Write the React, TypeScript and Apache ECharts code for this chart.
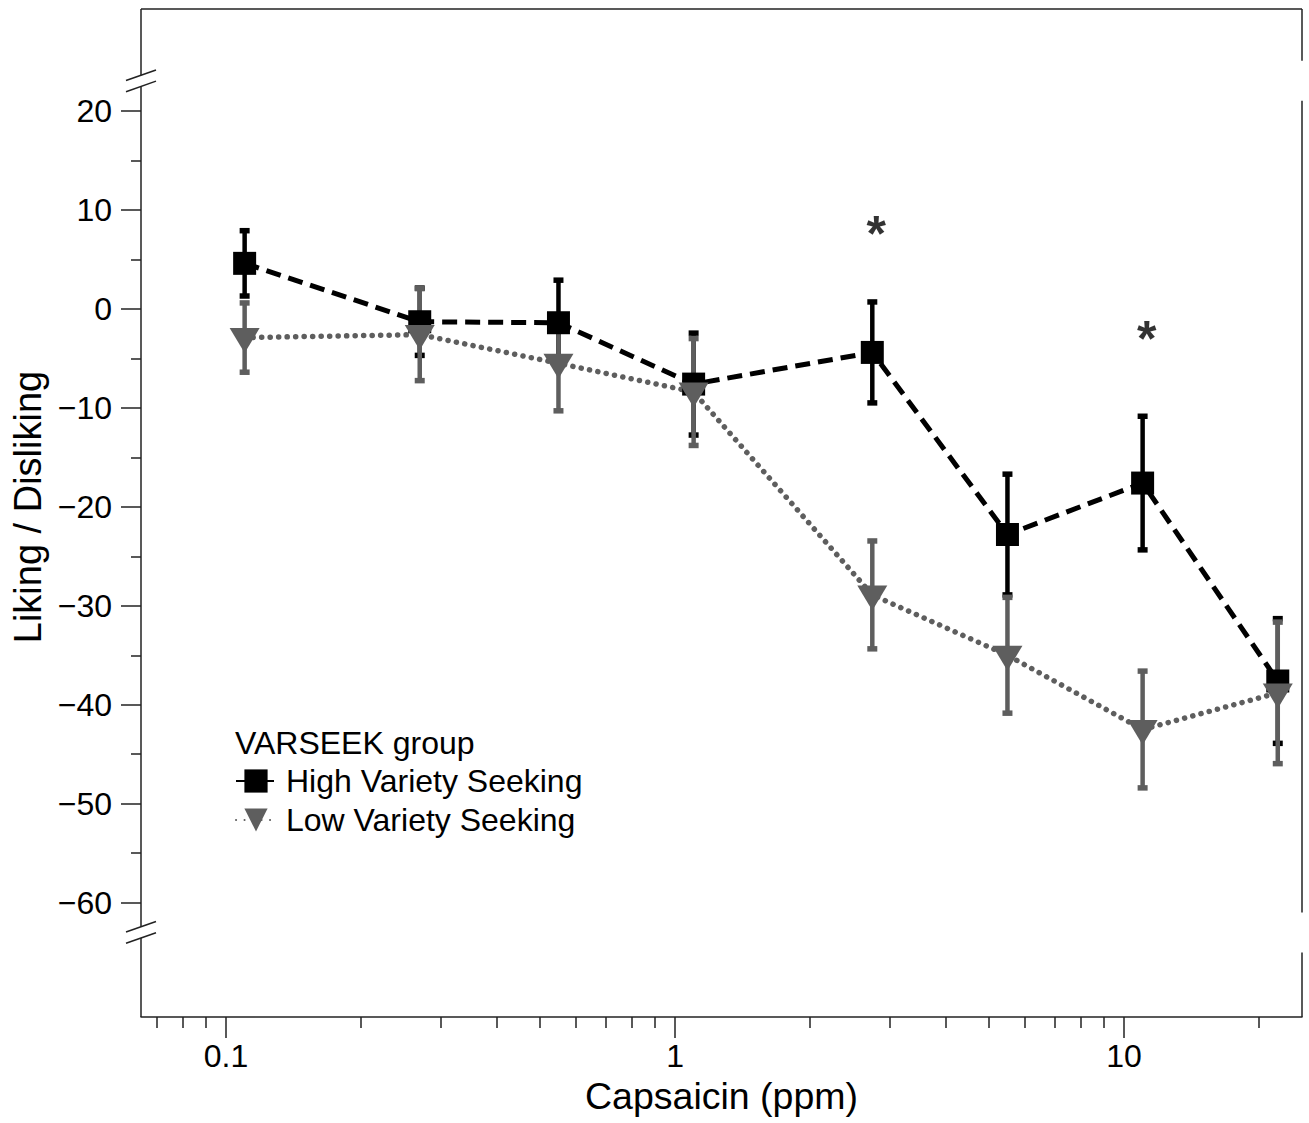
import React, { useEffect, useRef } from "react";
import * as echarts from "echarts";

// ---------- data ----------
const ppm = [0.11, 0.27, 0.55, 1.1, 2.75, 5.5, 11, 22];
const highMean = [4.6, -1.3, -1.4, -7.6, -4.4, -22.8, -17.6, -37.6];
const highErr = [3.3, 3.4, 4.3, 5.15, 5.1, 6.1, 6.75, 6.3];
const lowMean = [-2.9, -2.6, -5.5, -8.4, -28.9, -35.0, -42.5, -38.8];
const lowErr = [3.5, 4.65, 4.8, 5.4, 5.45, 5.85, 5.9, 7.15];
const starPpm = [2.75, 11];
const starY = [7.55, -3.0];

const yMajor = [-60, -50, -40, -30, -20, -10, 0, 10, 20];
const yMinor = [-55, -45, -35, -25, -15, -5, 5, 15];
const xMajor = [0.1, 1, 10];
const xMinor = [0.07, 0.08, 0.09, 0.2, 0.3, 0.4, 0.5, 0.6, 0.7, 0.8, 0.9, 2, 3, 4, 5, 6, 7, 8, 9, 20];
const xRange = [0.06465, 24.91];
const yRange = [-71.55, 30.3];
const breakValues = [23.04, -63.0];

const seriesNames = ["High Variety Seeking", "Low Variety Seeking"];
const legendTitle = "VARSEEK group";
const xTitle = "Capsaicin (ppm)";
const yTitle = "Liking / Disliking";

// ---------- style ----------
const FONT = "'Liberation Sans', Arial, Helvetica, sans-serif";
const BLACK = "#000000";
const GREY = "#5e5e5e";
const AXIS = "#222222";

const lg = (v: number) => Math.log10(v);

const fmtY = (v: number) => {
  const r = Math.round(v);
  return r < 0 ? "\u2212" + Math.abs(r) : String(r);
};
const fmtX = (v: number) => String(Number(Math.pow(10, v).toPrecision(3)));

const errRender = (color: string) => (params: any, api: any) => {
  const x = api.value(0);
  const lo = api.coord([x, api.value(1)]);
  const hi = api.coord([x, api.value(2)]);
  const cw = 10;
  const ch = 5.5;
  return {
    type: "group",
    children: [
      { type: "line", shape: { x1: lo[0], y1: lo[1], x2: hi[0], y2: hi[1] }, style: { stroke: color, lineWidth: 4.5 } },
      { type: "rect", shape: { x: hi[0] - cw / 2, y: hi[1] - ch / 2, width: cw, height: ch }, style: { fill: color } },
      { type: "rect", shape: { x: lo[0] - cw / 2, y: lo[1] - ch / 2, width: cw, height: ch }, style: { fill: color } },
    ],
  };
};

export default function App() {
  const ref = useRef<HTMLDivElement>(null);

  useEffect(() => {
    if (!ref.current) return;
    const chart = echarts.init(ref.current, null, { renderer: "svg" });

    const highLine = ppm.map((p, i) => [lg(p), highMean[i]]);
    const lowLine = ppm.map((p, i) => [lg(p), lowMean[i]]);
    const highBars = ppm.map((p, i) => [lg(p), highMean[i] - highErr[i], highMean[i] + highErr[i]]);
    const lowBars = ppm.map((p, i) => [lg(p), lowMean[i] - lowErr[i], lowMean[i] + lowErr[i]]);
    const stars = starPpm.map((p, i) => [lg(p), starY[i]]);

    const xMin = lg(xRange[0]);
    const xMax = lg(xRange[1]);

    const option: any = {
      animation: false,
      backgroundColor: "#ffffff",
      textStyle: { fontFamily: FONT },
      grid: { left: 141, right: 7, top: 9, bottom: 106, containLabel: false },
      xAxis: [
        {
          type: "value",
          min: xMin,
          max: xMax,
          position: "bottom",
          name: xTitle,
          nameLocation: "middle",
          nameGap: 60,
          nameTextStyle: { fontSize: 37.5, color: BLACK, fontFamily: FONT },
          axisLine: { show: true, onZero: false, lineStyle: { color: AXIS, width: 1.5 } },
          axisTick: { show: true, customValues: xMajor.map(lg), length: 21, lineStyle: { color: AXIS, width: 1.5 } },
          axisLabel: { show: true, customValues: xMajor.map(lg), formatter: fmtX, fontSize: 32, color: BLACK, margin: 23, fontFamily: FONT },
          splitLine: { show: false },
        },
        {
          type: "value",
          min: xMin,
          max: xMax,
          position: "bottom",
          axisLine: { show: false, onZero: false },
          axisTick: { show: true, customValues: xMinor.map(lg), length: 11, lineStyle: { color: AXIS, width: 1.5 } },
          axisLabel: { show: false },
          splitLine: { show: false },
        },
      ],
      yAxis: [
        {
          type: "value",
          min: yRange[0],
          max: yRange[1],
          position: "left",
          name: yTitle,
          nameLocation: "middle",
          nameGap: 94,
          nameTextStyle: { fontSize: 38, color: BLACK, fontFamily: FONT, padding: [0, 0, 0, 12] },
          axisLine: { show: false, onZero: false },
          axisTick: { show: true, customValues: yMajor, length: 20, lineStyle: { color: AXIS, width: 1.5 } },
          axisLabel: { show: true, customValues: yMajor, formatter: fmtY, fontSize: 32, color: BLACK, margin: 29, fontFamily: FONT },
          splitLine: { show: false },
        },
        {
          type: "value",
          min: yRange[0],
          max: yRange[1],
          position: "left",
          axisLine: { show: false, onZero: false },
          axisTick: { show: true, customValues: yMinor, length: 10, lineStyle: { color: AXIS, width: 1.5 } },
          axisLabel: { show: false },
          splitLine: { show: false },
        },
      ],
      legend: {
        orient: "vertical",
        left: 230,
        top: 758,
        itemWidth: 40,
        itemHeight: 29,
        itemGap: 3,
        selectedMode: false,
        textStyle: { fontSize: 32, color: BLACK, fontFamily: FONT, lineHeight: 36, padding: [0, 0, 0, 5] },
        data: seriesNames,
      },
      series: [
        {
          type: "custom",
          name: "highErr",
          renderItem: errRender(BLACK),
          encode: { x: 0, y: [1, 2] },
          data: highBars,
          silent: true,
        },
        {
          type: "line",
          name: seriesNames[0],
          data: highLine,
          symbol: "rect",
          symbolSize: 23,
          showSymbol: true,
          itemStyle: { color: BLACK },
          lineStyle: { color: BLACK, width: 5, type: [15, 8] },
          silent: true,
        },
        {
          type: "custom",
          name: "lowErr",
          renderItem: errRender(GREY),
          encode: { x: 0, y: [1, 2] },
          data: lowBars,
          silent: true,
        },
        {
          type: "line",
          name: seriesNames[1],
          data: lowLine,
          symbol: "triangle",
          symbolRotate: 180,
          symbolSize: [30, 25],
          symbolOffset: [0, 3],
          showSymbol: true,
          itemStyle: { color: GREY },
          lineStyle: { color: GREY, width: 5.5, type: [0.1, 8.4], cap: "round" },
          silent: true,
        },
        {
          type: "scatter",
          name: "stars",
          data: stars,
          symbolSize: 1,
          itemStyle: { color: "rgba(0,0,0,0)" },
          label: { show: true, position: "inside", formatter: "*", fontSize: 50, fontWeight: "bold", color: BLACK, offset: [4, 0], fontFamily: FONT },
          silent: true,
        },
      ],
    };

    chart.setOption(option);

    const P = (x: number, y: number) => chart.convertToPixel({ seriesIndex: 1 }, [x, y]) as number[];
    const tl = P(xMin, yRange[1]);
    const br = P(xMax, yRange[0]);
    const L = tl[0];
    const R = br[0];
    const T = tl[1];
    const B = br[1];
    const b1 = P(xMin, breakValues[0])[1];
    const b2 = P(xMin, breakValues[1])[1];

    const ls = { stroke: AXIS, lineWidth: 1.5 };
    const seg = (x1: number, y1: number, x2: number, y2: number) => ({
      type: "line",
      silent: true,
      shape: { x1, y1, x2, y2 },
      style: ls,
    });
    const mark = (cy: number) => seg(L - 15, cy + 5.3, L + 15, cy - 5.3);

    chart.setOption({
      graphic: [
        seg(L, T, R, T),
        // left axis with breaks
        seg(L, T, L, b1 - 5.6),
        seg(L, b1 + 5.6, L, b2 - 5.6),
        seg(L, b2 + 5.6, L, B),
        mark(b1 - 5.6),
        mark(b1 + 5.6),
        mark(b2 - 5.6),
        mark(b2 + 5.6),
        // right axis with gaps
        seg(R, T, R, b1 - 20),
        seg(R, b1 + 20, R, b2 - 20),
        seg(R, b2 + 20, R, B),
        {
          type: "text",
          left: 235,
          top: 727,
          silent: true,
          style: { text: legendTitle, fontSize: 32, fill: BLACK, fontFamily: FONT },
        },
      ],
    });

    return () => chart.dispose();
  }, []);

  return (
    <div
      ref={ref}
      style={{ position: "fixed", left: 0, top: 0, width: 1309, height: 1123, background: "#fff" }}
    />
  );
}
